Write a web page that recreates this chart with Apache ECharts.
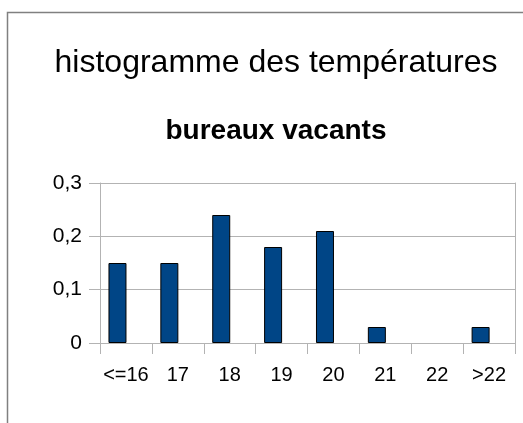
<!DOCTYPE html>
<html>
<head>
<meta charset="utf-8">
<script src="https://cdn.jsdelivr.net/npm/echarts@6/dist/echarts.min.js"></script>
<style>html,body{margin:0;padding:0;background:#fff}#c{width:523px;height:423px}</style>
</head>
<body>
<div id="c"></div>
<script>
const categories = ['<=16', '17', '18', '19', '20', '21', '22', '>22'];
const values = [0.15, 0.15, 0.24, 0.18, 0.21, 0.03, 0, 0.03];
const yTicks = [0, 0.1, 0.2, 0.3];
const titleText = 'histogramme des températures';
const subtitleText = 'bureaux vacants';

const font = '"Liberation Sans", Arial, sans-serif';
const gridColor = '#b3b3b3';
const chart = echarts.init(document.getElementById('c'), null, {renderer: 'canvas'});
chart.setOption({
  animation: false,
  backgroundColor: '#fff',
  graphic: [{
    type: 'polyline',
    shape: {points: [[7.5, 430], [7.5, 12.5], [530, 12.5]]},
    style: {stroke: '#808080', lineWidth: 1.5, fill: null}
  }],
  title: [{
    text: titleText,
    left: 271, top: 42, textAlign: 'center',
    textStyle: {fontFamily: font, fontSize: 32, fontWeight: 'normal', color: '#000'}
  }, {
    text: subtitleText,
    left: 271, top: 112, textAlign: 'center',
    textStyle: {fontFamily: font, fontSize: 28, fontWeight: 'bold', color: '#000'}
  }],
  grid: {left: 100, right: 8, top: 183, bottom: 80},
  xAxis: {
    type: 'category',
    data: categories,
    boundaryGap: true,
    axisLine: {show: true, lineStyle: {color: gridColor}},
    axisTick: {show: true, length: 11, interval: 0, lineStyle: {color: gridColor}},
    axisLabel: {interval: 0, margin: 22, fontFamily: font, fontSize: 20, color: '#000'}
  },
  yAxis: [{
    type: 'value',
    min: yTicks[0], max: yTicks[yTicks.length - 1], interval: 0.1,
    axisLine: {show: true, lineStyle: {color: gridColor}},
    axisTick: {show: true, length: 11, lineStyle: {color: gridColor}},
    splitLine: {show: true, lineStyle: {color: gridColor}},
    axisLabel: {
      margin: 18, fontFamily: font, fontSize: 21, color: '#000', padding: [6, 0, 0, 0],
      formatter: v => String(Math.round(v * 10) / 10).replace('.', ',')
    }
  }, {
    type: 'value', position: 'right',
    min: yTicks[0], max: yTicks[yTicks.length - 1], interval: 0.1,
    axisLine: {show: true, lineStyle: {color: gridColor}},
    axisTick: {show: false}, axisLabel: {show: false}, splitLine: {show: false}
  }],
  series: [{
    type: 'bar',
    data: values.map(v => v === 0 ? {value: v, itemStyle: {borderWidth: 0, color: 'transparent'}} : v),
    barWidth: 18,
    barGap: '-6%',
    itemStyle: {color: '#004586', borderColor: '#000', borderWidth: 1}
  }, {
    type: 'bar',
    data: values.map(() => null),
    barWidth: 18,
    itemStyle: {color: 'transparent'}
  }]
});
</script>
</body>
</html>
